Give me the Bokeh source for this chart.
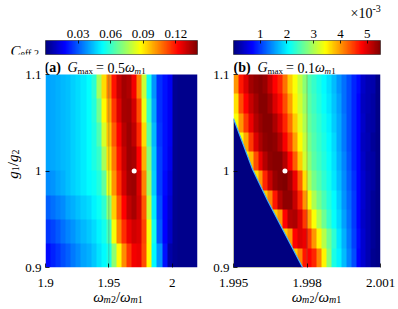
import numpy as np
from bokeh.plotting import figure
from bokeh.models import LinearColorMapper, FixedTicker, Label, Range1d
from bokeh.layouts import row, column
from bokeh.embed import file_html
from bokeh.resources import INLINE

# ---------------- data ----------------
y_range = [0.9, 1.1]
yticks = [0.9, 1.0, 1.1]
ytick_labels = ["0.9", "1", "1.1"]

a_x_range = [1.9, 2.02]
a_xticks = [1.9, 1.95, 2.0]
a_xtick_labels = ["1.9", "1.95", "2"]
b_x_range = [1.995, 2.001]
b_xticks = [1.995, 1.998, 2.001]
b_xtick_labels = ["1.995", "1.998", "2.001"]

a_cbar_range = [0.0, 0.14]
a_cbar_ticks = [0.03, 0.06, 0.09, 0.12]
a_cbar_labels = ["0.03", "0.06", "0.09", "0.12"]
b_cbar_range = [0.0, 5.5]          # in units of 1e-3
b_cbar_ticks = [1, 2, 3, 4, 5]
b_cbar_labels = ["1", "2", "3", "4", "5"]

a_opt_x, a_opt_y = [1.97], [1.0]
b_opt_x, b_opt_y = [1.9971], [1.0]

# panel (a): C_eff,2 (x1e-3), 30 columns across x, 8 rows from g1/g2=1.1 (top) to 0.9 (bottom)
a_rows = [
    [40, 41, 42, 43, 44, 46, 48, 50, 53, 58, 75, 92, 105, 120, 130, 135, 133, 124, 105, 80, 55, 38, 24, 20, 16, 3, 2, 2, 2, 2],
    [40, 41, 42, 43, 44, 46, 48, 50, 53, 57, 68, 88, 100, 115, 127, 134, 135, 128, 112, 85, 60, 40, 24, 20, 16, 3, 2, 2, 2, 2],
    [40, 41, 42, 43, 44, 46, 48, 50, 53, 56, 63, 82, 96, 110, 123, 132, 136, 131, 117, 92, 65, 43, 25, 20, 16, 3, 2, 2, 2, 2],
    [40, 41, 42, 43, 44, 46, 48, 50, 53, 56, 60, 75, 92, 106, 120, 130, 136, 134, 122, 98, 70, 45, 26, 20, 15, 3, 2, 2, 2, 2],
    [37, 38, 40, 42, 44, 46, 48, 50, 52, 54, 57, 66, 85, 102, 116, 128, 135, 136, 127, 104, 74, 46, 26, 19, 13, 3, 2, 2, 2, 2],
    [31, 33, 35, 37, 40, 42, 44, 46, 48, 51, 54, 59, 72, 94, 110, 122, 131, 134, 129, 110, 80, 50, 28, 18, 11, 3, 2, 2, 2, 2],
    [25, 27, 30, 33, 36, 38, 41, 43, 45, 48, 51, 55, 62, 86, 104, 116, 125, 129, 127, 113, 86, 55, 30, 18, 10, 3, 2, 2, 2, 2],
    [19, 22, 25, 28, 31, 34, 37, 40, 42, 45, 49, 52, 56, 72, 88, 103, 115, 124, 125, 112, 88, 52, 38, 20, 6, 3, 2, 2, 2, 2],
]

# panel (b): C_eff,2 (x1e-3), 30 columns across x, 10 rows from 1.1 (top) to 0.9 (bottom)
b_rows = [
    [4.0, 4.7, 5.0, 5.3, 5.4, 5.45, 5.35, 5.1, 4.8, 4.6, 4.2, 3.7, 3.4, 3.1, 2.8, 2.5, 2.35, 2.2, 2.05, 1.9, 1.7, 1.5, 1.3, 1.1, 0.9, 0.75, 0.4, 0.3, 0.25, 0.05],
    [3.6, 4.4, 4.8, 5.1, 5.3, 5.45, 5.45, 5.3, 5.0, 4.75, 4.4, 3.95, 3.5, 3.2, 2.9, 2.55, 2.4, 2.25, 2.1, 1.95, 1.75, 1.55, 1.3, 1.1, 0.9, 0.7, 0.35, 0.3, 0.2, 0.05],
    [3.4, 4.0, 4.5, 4.9, 5.2, 5.35, 5.45, 5.45, 5.25, 5.0, 4.6, 4.2, 3.7, 3.3, 3.0, 2.6, 2.45, 2.3, 2.15, 2.0, 1.8, 1.6, 1.35, 1.1, 0.9, 0.7, 0.4, 0.25, 0.2, 0.05],
    [3.4, 3.4, 3.9, 4.5, 5.0, 5.25, 5.4, 5.45, 5.4, 5.2, 4.85, 4.45, 3.95, 3.45, 3.1, 2.7, 2.5, 2.35, 2.2, 2.05, 1.85, 1.6, 1.35, 1.1, 0.9, 0.7, 0.35, 0.3, 0.15, 0.05],
    [3.4, 3.4, 3.4, 3.8, 4.4, 4.9, 5.2, 5.4, 5.45, 5.45, 5.2, 4.8, 4.3, 3.7, 3.2, 2.8, 2.55, 2.4, 2.25, 2.1, 1.9, 1.65, 1.4, 1.15, 0.9, 0.7, 0.4, 0.25, 0.2, 0.05],
    [3.4, 3.4, 3.4, 3.4, 3.6, 4.0, 4.6, 5.1, 5.35, 5.45, 5.5, 5.3, 4.9, 4.3, 3.6, 3.0, 2.7, 2.5, 2.3, 2.15, 1.95, 1.7, 1.45, 1.2, 0.95, 0.7, 0.45, 0.3, 0.2, 0.05],
    [3.4, 3.4, 3.4, 3.4, 3.4, 3.4, 3.7, 4.1, 4.7, 5.2, 5.4, 5.4, 5.1, 4.6, 4.0, 3.4, 3.0, 2.7, 2.45, 2.25, 2.05, 1.8, 1.5, 1.25, 1.0, 0.7, 0.45, 0.3, 0.15, 0.05],
    [3.4, 3.4, 3.4, 3.4, 3.4, 3.4, 3.4, 3.4, 3.7, 4.0, 4.8, 5.2, 5.25, 5.0, 4.5, 3.9, 3.4, 3.0, 2.65, 2.35, 2.1, 1.85, 1.55, 1.3, 1.0, 0.7, 0.4, 0.3, 0.15, 0.05],
    [3.4, 3.4, 3.4, 3.4, 3.4, 3.4, 3.4, 3.4, 3.4, 3.4, 3.7, 4.0, 4.8, 5.0, 4.9, 4.5, 4.0, 3.5, 3.05, 2.65, 2.3, 1.95, 1.65, 1.35, 1.05, 0.75, 0.45, 0.3, 0.15, 0.05],
    [3.4, 3.4, 3.4, 3.4, 3.4, 3.4, 3.4, 3.4, 3.4, 3.4, 3.4, 3.4, 3.7, 4.1, 4.7, 4.8, 4.6, 4.1, 3.5, 2.8, 2.2, 2.0, 1.7, 1.4, 1.1, 0.7, 0.45, 0.3, 0.1, 0.05],
]

# panel (b): edge of the region where C_eff,2 = 0 (lower left)
b_zero_edge_x = [1.995, 1.99578, 1.99639, 1.99782]
b_zero_edge_y = [1.0544, 1.0016, 0.9694, 0.9]

# ---------------- style helpers ----------------
SERIF = "Liberation Serif"
FRAME_H = 193          # px height of the heat-map frame
TITLE_PX = 15          # px of room kept above the heat map for the panel title
MAIN_BOTTOM = 5


def jet_palette(n=256):
    t = np.linspace(0, 1, n)
    r = np.clip(1.5 - np.abs(4 * t - 3), 0, 1)
    g = np.clip(1.5 - np.abs(4 * t - 2), 0, 1)
    b = np.clip(1.5 - np.abs(4 * t - 1), 0, 1)
    return ["#%02x%02x%02x" % (int(round(255 * R)), int(round(255 * G)), int(round(255 * B)))
            for R, G, B in zip(r, g, b)]


JET = jet_palette()

CW = {'(': .333, ')': .333, 'a': .47, 'b': .54, ' ': .25, '=': .564, '.': .25, 'G': .722,
      'm': .74, 'x': .46, 'C': .667, 'e': .444, 'f': .31, ',': .25, 'g': .5, '/': .278,
      'ω': .69, '×': .564, '-': .333}


def text_w(s, size):
    return sum(CW.get(ch, 0.5) for ch in s) * size


def compose(p, x, y, pieces, dx=0.0, dy=0.0, rotate=False):
    off = 0.0
    for txt, size, style, shift in pieces:
        if txt.strip():
            if not rotate:
                lab = Label(x=x, y=y, x_offset=dx + off, y_offset=dy + shift, text=txt)
            else:
                lab = Label(x=x, y=y, x_offset=dx - shift, y_offset=dy + off, text=txt,
                            angle=np.pi / 2)
            lab.text_font = SERIF
            lab.text_font_size = "%gpx" % size
            lab.text_font_style = style
            lab.text_align = "left"
            lab.text_baseline = "alphabetic"
            lab.text_color = "black"
            p.add_layout(lab)
        off += text_w(txt, size)
    return off


def strip(width, height):
    s = figure(width=width, height=height, x_range=Range1d(0, width), y_range=Range1d(0, height),
               output_backend="svg", toolbar_location=None, x_axis_location=None, y_axis_location=None,
               title=None, min_border=0, min_border_left=0, min_border_right=0, min_border_top=0,
               min_border_bottom=0)
    s.outline_line_color = None
    s.grid.visible = False
    return s


def style_axes(p):
    p.axis.major_label_text_font = SERIF
    p.axis.major_label_text_font_size = "13px"
    p.axis.major_label_text_color = "black"
    p.axis.axis_line_color = None
    p.axis.major_tick_line_color = "black"
    p.axis.major_tick_line_width = 0.8
    p.axis.major_tick_in = 4
    p.axis.major_tick_out = 0
    p.axis.minor_tick_line_color = None
    p.axis.major_label_standoff = 4


y_top = y_range[1] + TITLE_PX * (y_range[1] - y_range[0]) / FRAME_H


def make_main(xr, xticks, width, left, right, rows, mapper):
    p = figure(width=width, height=FRAME_H + TITLE_PX + MAIN_BOTTOM, x_range=xr,
               y_range=Range1d(y_range[0], y_top), title=None,
               output_backend="svg", toolbar_location=None,
               min_border_left=left, min_border_right=right, min_border_top=0, min_border_bottom=MAIN_BOTTOM)
    p.outline_line_color = None
    p.grid.visible = False
    arr = np.array(rows, dtype=float)[::-1]
    p.image(image=[arr], x=xr.start, y=y_range[0], dw=xr.end - xr.start, dh=y_range[1] - y_range[0],
            color_mapper=mapper)
    inner = xticks[1:-1]
    p.segment(x0=inner, y0=[y_range[0]] * len(inner), x1=inner, y1=[y_range[1]] * len(inner),
              line_color="#556655", line_alpha=0.35, line_width=1)
    p.xaxis.ticker = FixedTicker(ticks=xticks)
    p.yaxis.ticker = FixedTicker(ticks=yticks)
    p.yaxis.major_label_overrides = dict(zip(yticks, ytick_labels))
    style_axes(p)
    # x tick labels are shown by the strip below (same x range); here only the inner ticks
    p.xaxis.major_label_text_font_size = "0px"
    p.xaxis.major_label_text_color = None
    p.xaxis.major_label_standoff = 0
    return p


def make_xstrip(xr, xticks, xlabels, width, left, right, height):
    s = figure(width=width, height=height, x_range=xr, y_range=Range1d(0, 23), title=None,
               output_backend="svg", toolbar_location=None, x_axis_location="above",
               y_axis_location=None, min_border_left=left, min_border_right=right,
               min_border_top=height - 23, min_border_bottom=0)
    s.outline_line_color = None
    s.grid.visible = False
    s.xaxis.ticker = FixedTicker(ticks=xticks)
    s.xaxis.major_label_overrides = dict(zip(xticks, xlabels))
    style_axes(s)
    s.xaxis.major_tick_line_color = None
    s.xaxis.major_tick_in = 0
    s.xaxis.major_label_standoff = 0
    return s


def make_cbar(cr, ticks, labels, width, left, right, mapper):
    cb = figure(width=width, height=37, x_range=Range1d(*cr), y_range=Range1d(0, 1), title=None,
                output_backend="svg", toolbar_location=None, x_axis_location="above",
                y_axis_location=None,
                min_border_left=left, min_border_right=right, min_border_top=18, min_border_bottom=5)
    cb.grid.visible = False
    cb.outline_line_color = "#333333"
    cb.outline_line_width = 0.8
    ramp = np.linspace(cr[0], cr[1], 256)[None, :]
    cb.image(image=[ramp], x=cr[0], y=0, dw=cr[1] - cr[0], dh=1, color_mapper=mapper)
    cb.xaxis.ticker = FixedTicker(ticks=ticks)
    cb.xaxis.major_label_overrides = dict(zip(ticks, labels))
    style_axes(cb)
    cb.xaxis.major_tick_in = 3
    cb.xaxis.major_label_standoff = 3
    return cb


map_a = LinearColorMapper(palette=JET, low=a_cbar_range[0], high=a_cbar_range[1],
                          low_color=JET[0], high_color=JET[-1])
map_b = LinearColorMapper(palette=JET, low=b_cbar_range[0], high=b_cbar_range[1],
                          low_color=JET[0], high_color=JET[-1])

a_vals = (np.array(a_rows, dtype=float) * 1e-3).tolist()
xrA = Range1d(*a_x_range)
xrB = Range1d(*b_x_range)

pA = make_main(xrA, a_xticks, 186, 23, 11, a_vals, map_a)
pB = make_main(xrB, b_xticks, 190, 25, 18, b_rows, map_b)

# zero region of panel (b)
pB.patch(x=b_zero_edge_x + [b_x_range[0]], y=b_zero_edge_y + [y_range[0]],
         fill_color=JET[0], line_color=None)
pB.line(x=b_zero_edge_x, y=b_zero_edge_y, line_color="#3fb0ff", line_width=1.2)

pA.scatter(x=a_opt_x, y=a_opt_y, size=5, color="white", line_color=None)
pB.scatter(x=b_opt_x, y=b_opt_y, size=5, color="white", line_color=None)

cbA = make_cbar(a_cbar_range, a_cbar_ticks, a_cbar_labels, 163, 0, 11, map_a)
cbB = make_cbar(b_cbar_range, b_cbar_ticks, b_cbar_labels, 190, 25, 18, map_b)


# panel titles (inside the room above the heat maps)
def title_pieces(tag, g):
    return [(tag, 14, "bold", 0), ("  ", 14, "normal", 0), ("G", 14, "italic", 0), ("max", 9, "normal", -3),
            (" ", 14, "normal", 0), ("=", 14, "normal", 0), (" ", 14, "normal", 0), (g, 14, "normal", 0),
            ("ω", 14, "italic", 0), ("m", 9, "italic", -3), ("1", 9, "normal", -3)]


compose(pA, a_x_range[0], y_range[1], title_pieces("(a)", "0.5"), -1, 7)
compose(pB, b_x_range[0], y_range[1], title_pieces("(b)", "0.1"), 0, 7)

# text strips
top = strip(398, 22)
compose(top, 350, 9, [("×10", 14, "normal", 0), ("-3", 10, "normal", 5)])

cstrip = strip(45, 37)
compose(cstrip, 10, 10, [("C", 15, "italic", 0), ("eff,2", 10, "normal", -3)])

ylab = [("g", 15, "italic", 0), ("1", 10, "normal", -3), ("/", 15, "normal", 0),
        ("g", 15, "italic", 0), ("2", 10, "normal", -3)]
yl_w = sum(text_w(t, s) for t, s, _, _ in ylab)
ys_h = FRAME_H + TITLE_PX + MAIN_BOTTOM
ystrip = strip(22, ys_h)
compose(ystrip, 12, ys_h - (166.5 - 59) - yl_w / 2, ylab, rotate=True)

# bottom strips: x tick labels (library axis on the shared x range) + axis title
XS_H = 309 - (22 + 37 + ys_h)
xlab = [("ω", 15, "italic", 0), ("m", 10, "italic", -3), ("2", 10, "normal", -3), ("/", 15, "normal", 0),
        ("ω", 15, "italic", 0), ("m", 10, "italic", -3), ("1", 10, "normal", -3)]
xl_w = sum(text_w(t, s) for t, s, _, _ in xlab)
xsA = make_xstrip(xrA, a_xticks, a_xtick_labels, 208, 45, 11, XS_H)
compose(xsA, a_x_range[0], 0, xlab, (117.5 - 45) - xl_w / 2, 13)
xsB = make_xstrip(xrB, b_xticks, b_xtick_labels, 190, 25, 18, XS_H)
compose(xsB, b_x_range[0], 0, xlab, (316 - 233) - xl_w / 2, 13)

layout = column(top, row(cstrip, cbA, cbB), row(ystrip, pA, pB), row(xsA, xsB))
open("out.html", "w").write(file_html(layout, INLINE))
